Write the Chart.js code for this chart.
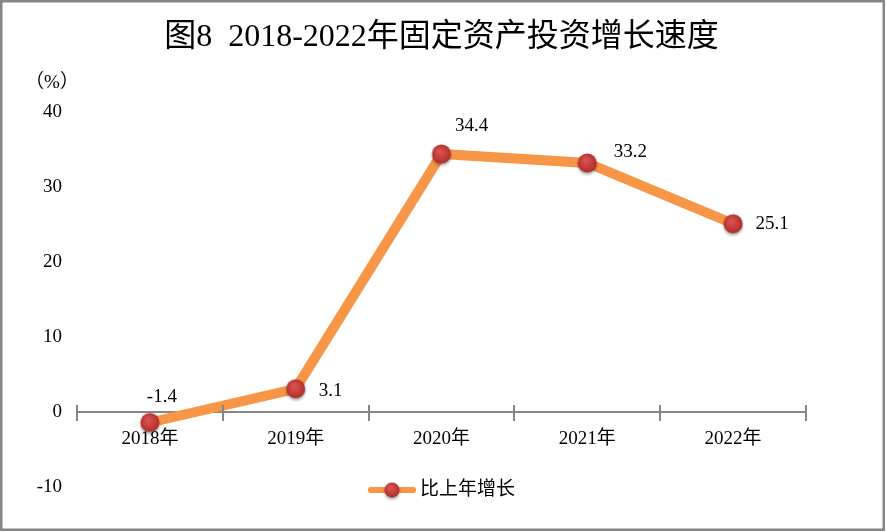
<!DOCTYPE html>
<html>
<head>
<meta charset="utf-8">
<script src="https://cdn.jsdelivr.net/npm/chart.js@4.4.1/dist/chart.umd.min.js"></script>
<style>
    html, body { margin: 0; padding: 0; background: #fff; }
    #growthChart { display: block; }
</style>
</head>
<body>
<canvas id="growthChart" width="886" height="532"></canvas>
<script>
const years = ['2018年', '2019年', '2020年', '2021年', '2022年'];
const growthRate = [-1.4, 3.1, 34.4, 33.2, 25.1];
const yTicks = [-10, 0, 10, 20, 30, 40];
const seriesName = '比上年增长';
const chartTitle = '图8  2018-2022年固定资产投资增长速度';
const unitLabel = '（%）';

// where each value label sits, relative to its point
const labelOffsets = [[12, -25], [35, 2], [30, -28], [43, -11], [39, 0]];

const serif = "'Times New Roman', 'Liberation Serif', 'Noto Sans CJK SC', serif";
const lineColor = '#F79646';
const axisColor = '#868686';

// Red ball marker, optionally with a short line behind it (for the legend)
function makeMarker(w, h, r, withLine) {
    const c = document.createElement('canvas');
    c.width = w;
    c.height = h;
    const g = c.getContext('2d');
    const cx = w / 2, cy = h / 2;
    if (withLine) {
        g.strokeStyle = lineColor;
        g.lineWidth = 6;
        g.lineCap = 'round';
        g.beginPath();
        g.moveTo(3, cy);
        g.lineTo(w - 3, cy);
        g.stroke();
    }
    g.shadowColor = 'rgba(0,0,0,0.35)';
    g.shadowBlur = 3;
    g.shadowOffsetY = 2;
    const grad = g.createRadialGradient(cx - 2, cy - 3, 1, cx, cy, r + 1);
    grad.addColorStop(0, '#D85350');
    grad.addColorStop(0.6, '#C23B37');
    grad.addColorStop(1, '#A02B2A');
    g.fillStyle = grad;
    g.beginPath();
    g.arc(cx, cy, r, 0, Math.PI * 2);
    g.fill();
    return c;
}

const pointMarker = makeMarker(28, 28, 9.5, false);
const legendMarker = makeMarker(48, 22, 7.5, true);

// Frame, unit label, tick tops and legend
const extrasPlugin = {
    id: 'extras',
    afterDraw(chart) {
        const ctx = chart.ctx;
        const area = chart.chartArea;
        const xs = chart.scales.x;
        const ys = chart.scales.y;
        ctx.save();

        ctx.strokeStyle = axisColor;
        ctx.lineWidth = 2.5;
        ctx.strokeRect(1.25, 1.25, chart.width - 3.5, chart.height - 3.5);

        ctx.fillStyle = '#000';
        ctx.font = '19px ' + serif;
        ctx.textAlign = 'center';
        ctx.textBaseline = 'middle';
        ctx.fillText(unitLabel, 52, area.top - 29);

        // ticks on the x axis also poke up above the line
        const y0 = Math.round(ys.getPixelForValue(0));
        ctx.strokeStyle = axisColor;
        ctx.lineWidth = 2;
        for (let i = 0; i <= years.length; i++) {
            const x = Math.round(xs.getPixelForValue(i - 0.5));
            ctx.beginPath();
            ctx.moveTo(x, y0 - 7);
            ctx.lineTo(x, y0);
            ctx.stroke();
        }

        // legend
        ctx.font = '19px ' + serif;
        const textW = ctx.measureText(seriesName).width;
        const totalW = legendMarker.width + 4 + textW;
        const lx = (area.left + area.right) / 2 - totalW / 2;
        const ly = 490;
        ctx.drawImage(legendMarker, lx, ly - legendMarker.height / 2);
        ctx.textAlign = 'left';
        ctx.fillText(seriesName, lx + legendMarker.width + 4, ly);
        ctx.restore();
    },
    afterDatasetsDraw(chart) {
        const ctx = chart.ctx;
        const meta = chart.getDatasetMeta(0);
        ctx.save();
        ctx.fillStyle = '#000';
        ctx.font = '19px ' + serif;
        ctx.textAlign = 'center';
        ctx.textBaseline = 'middle';
        meta.data.forEach((pt, i) => {
            const off = labelOffsets[i];
            ctx.fillText(growthRate[i].toFixed(1), pt.x + off[0], pt.y + off[1]);
        });
        ctx.restore();
    }
};

const growthCtx = document.getElementById('growthChart').getContext('2d');
const growthChart = new Chart(growthCtx, {
    type: 'line',
    data: {
        labels: years,
        datasets: [{
            label: seriesName,
            data: growthRate,
            borderColor: lineColor,
            borderWidth: 10,
            tension: 0,
            pointStyle: pointMarker,
            pointRadius: 10,
            fill: false
        }]
    },
    options: {
        responsive: false,
        animation: false,
        devicePixelRatio: 1,
        layout: {
            padding: { top: 0, left: 30, right: 80, bottom: 45 }
        },
        plugins: {
            legend: { display: false },
            tooltip: { enabled: false },
            title: {
                display: true,
                fullSize: false,
                text: chartTitle,
                color: '#000',
                font: { family: serif, size: 32, weight: 'normal' },
                padding: { top: 18, bottom: 55.6 }
            }
        },
        scales: {
            x: {
                position: { y: 0 },
                offset: true,
                grid: {
                    display: true,
                    drawOnChartArea: false,
                    drawTicks: true,
                    tickLength: 8,
                    offset: true,
                    color: axisColor,
                    lineWidth: 2
                },
                border: { display: true, color: axisColor, width: 2 },
                ticks: { color: '#000', font: { family: serif, size: 19 }, padding: 8 },
                afterFit: s => { s.height = 0; }
            },
            y: {
                min: -10,
                max: 40,
                afterBuildTicks: s => { s.ticks = yTicks.map(v => ({ value: v })); },
                grid: { display: false, drawTicks: false },
                border: { display: false },
                ticks: {
                    color: '#000',
                    font: { family: serif, size: 19 },
                    padding: 15,
                    callback: v => String(v)
                },
                afterFit: s => { s.width = 47; }
            }
        }
    },
    plugins: [extrasPlugin]
});
</script>
</body>
</html>
